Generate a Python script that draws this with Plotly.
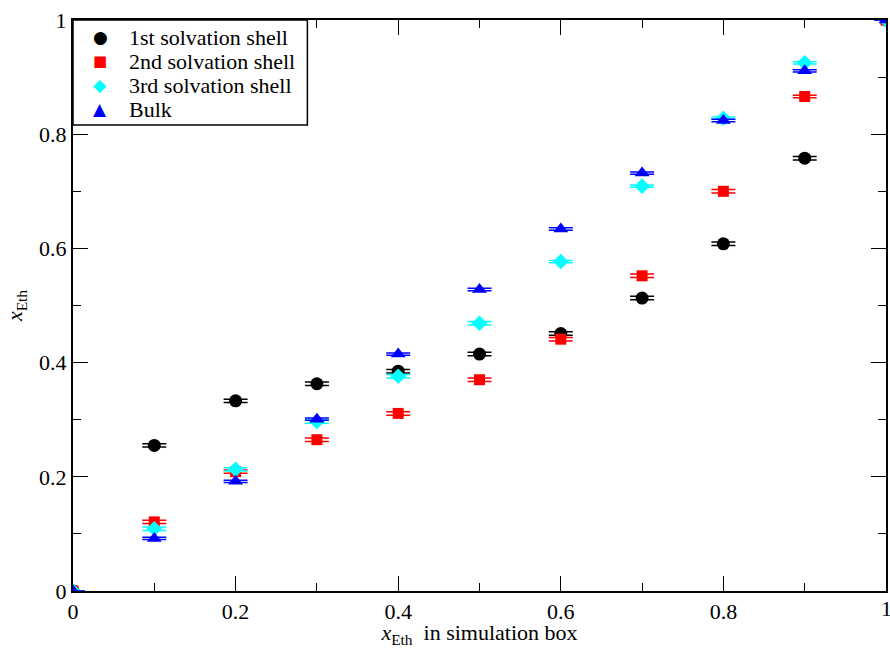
import plotly.graph_objects as go

x_box = [0.0, 0.1, 0.2, 0.3, 0.4, 0.5, 0.6, 0.7, 0.8, 0.9, 1.0]
shell1 = [0.0, 0.255, 0.333, 0.363, 0.385, 0.415, 0.451, 0.513, 0.608, 0.758, 1.0]
shell2 = [0.0, 0.121, 0.209, 0.265, 0.311, 0.370, 0.441, 0.552, 0.700, 0.866, 1.0]
shell3 = [0.0, 0.109, 0.213, 0.297, 0.376, 0.469, 0.577, 0.709, 0.828, 0.925, 1.0]
bulk = [0.0, 0.092, 0.192, 0.301, 0.415, 0.528, 0.634, 0.732, 0.824, 0.911, 1.0]
err1 = [0.0, 0.003, 0.003, 0.003, 0.003, 0.003, 0.003, 0.003, 0.003, 0.003, 0.0]
err2 = [0.0, 0.003, 0.003, 0.003, 0.003, 0.003, 0.003, 0.003, 0.003, 0.002, 0.0]
err3 = [0.0, 0.003, 0.003, 0.003, 0.003, 0.003, 0.002, 0.002, 0.002, 0.002, 0.0]
errb = [0.0, 0.002, 0.002, 0.002, 0.002, 0.002, 0.002, 0.002, 0.002, 0.002, 0.0]
tick_vals = [0, 0.2, 0.4, 0.6, 0.8, 1]
tick_text = ["0", "0.2", "0.4", "0.6", "0.8", "1"]
legend_names = ["1st solvation shell", "2nd solvation shell", "3rd solvation shell", "Bulk"]
legend_glyphs = ["●", "■", "◆", "▲"]

series = [
    (legend_names[0], shell1, err1, "black", "circle", 13),
    (legend_names[1], shell2, err2, "#ff0000", "square", 11),
    (legend_names[2], shell3, err3, "#00ffff", "diamond", 12),
    (legend_names[3], bulk, errb, "#0000ff", "triangle-up", 13),
]

fig = go.Figure()
for name, ys, es, col, sym, sz in series:
    fig.add_trace(go.Scatter(
        x=x_box, y=ys, mode="markers", name=name, showlegend=False,
        marker=dict(color=col, symbol=sym, size=sz, line=dict(width=0)),
        error_y=dict(type="data", array=es, visible=True, color=col,
                     thickness=1.5, width=12),
    ))

font_family = "Liberation Serif"
axis_common = dict(
    showline=True, linecolor="black", linewidth=2, mirror="allticks",
    ticks="inside", ticklen=15, tickwidth=1.3, tickcolor="black",
    showgrid=False, zeroline=False,
    tickfont=dict(family=font_family, size=22, color="black"),
    minor=dict(ticks="inside", ticklen=8, tickwidth=1.3, tickcolor="black", dtick=0.1),
)

fig.update_layout(
    width=890, height=648,
    margin=dict(l=73, r=2, t=20, b=57),
    paper_bgcolor="white", plot_bgcolor="white",
    font=dict(family=font_family, color="black"),
    showlegend=False,
    xaxis=dict(range=[0, 1], tickvals=tick_vals, ticktext=tick_text,
               title=dict(text="<i>x</i><sub>Eth</sub>  in simulation box",
                          font=dict(family=font_family, size=22), standoff=2),
               **axis_common),
    yaxis=dict(range=[0, 1], tickvals=tick_vals, ticktext=tick_text,
               title=dict(text="<i>x</i><sub>Eth</sub>",
                          font=dict(family=font_family, size=22), standoff=10),
               **axis_common),
)

# last x tick label sits at the paper's right edge (partly clipped in the reference)
fig.add_annotation(x=1, y=0, xref="x", yref="paper", text=tick_text[-1],
                   showarrow=False, yanchor="top", xanchor="center", yshift=-3,
                   font=dict(family=font_family, size=22, color="black"))

# legend box (xmgrace style)
fig.add_shape(type="rect", xref="paper", yref="paper", x0=0, x1=0.2883, y0=0.8161, y1=1,
              line=dict(color="black", width=1.5), fillcolor="white", layer="above")
for i, (name, glyph, s) in enumerate(zip(legend_names, legend_glyphs, series)):
    col = s[3]
    dy = -(17 + 24 * i)
    fig.add_annotation(x=0, y=1, xref="paper", yref="paper", xanchor="center", yanchor="middle",
                       xshift=27, yshift=dy, showarrow=False, text=glyph,
                       font=dict(family="DejaVu Sans", size=17 if glyph != "■" else 15, color=col))
    fig.add_annotation(x=0, y=1, xref="paper", yref="paper", xanchor="left", yanchor="middle",
                       xshift=54, yshift=dy, showarrow=False, text=name,
                       font=dict(family=font_family, size=22, color="black"))

fig.write_html("out.html")
